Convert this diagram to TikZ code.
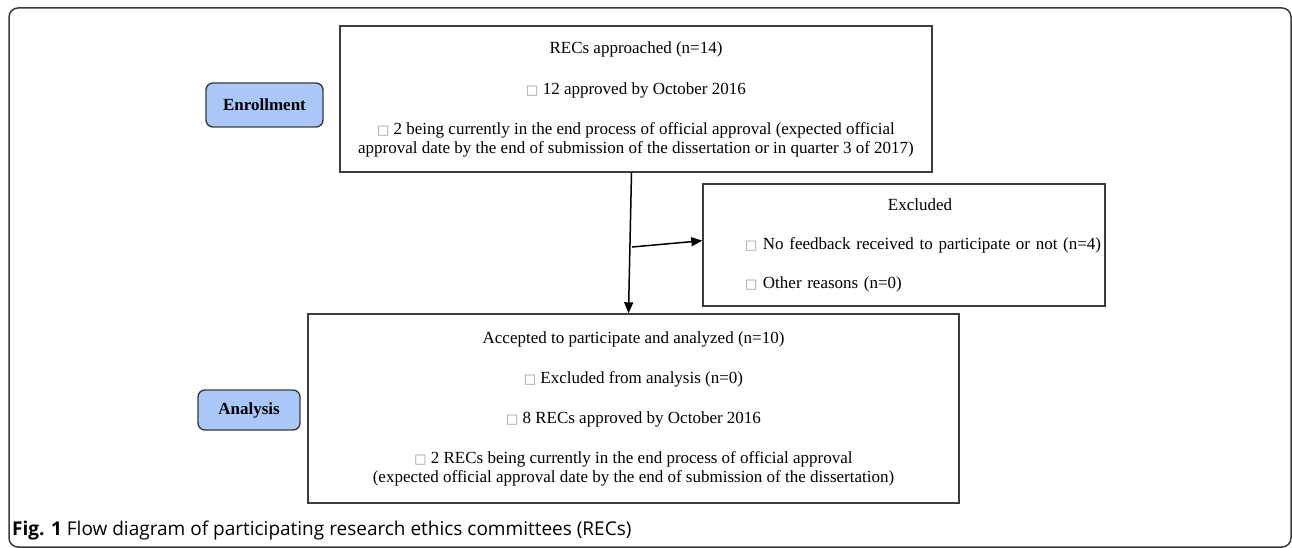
\documentclass[tikz,border=0pt]{standalone}
\usepackage{fontspec}
\setmainfont{Liberation Serif}
\newfontfamily\capfont{Open Sans}
\newfontfamily\symfont{DejaVu Sans}
\usetikzlibrary{shapes,arrows,arrows.meta,calc}
\definecolor{stageblue}{RGB}{170,199,250}
\definecolor{linegray}{RGB}{60,60,60}
\newcommand{\tofu}{{\symfont\fontsize{13}{13}\selectfont\color{gray!80}□}}
\tikzstyle{box}=[draw=linegray, line width=1.4pt, align=center, font=\fontsize{17}{19}\selectfont]
\tikzstyle{stage}=[draw=linegray, line width=1.4pt, fill=stageblue, rounded corners=7pt, font=\bfseries\fontsize{17}{19}\selectfont]
\tikzstyle{arrow}=[draw, line width=1.5pt, -{Triangle[length=11pt,width=9pt]}]

\begin{document}
\begin{tikzpicture}[x=1pt,y=-1pt]
\useasboundingbox (0,0) rectangle (1292,548);
\draw [linegray, line width=1.5pt, rounded corners=9pt] (9,8) rectangle (1291,547);

\node (enroll) [stage, minimum width=117pt, minimum height=44pt] at (264.5,105) {Enrollment};
\node (analysis) [stage, minimum width=102pt, minimum height=40pt] at (249,410) {Analysis};

\node (approached) [box, minimum width=592pt, minimum height=146pt] at (636,99) {RECs approached (n=14)\\[22pt]
\tofu{} 12 approved by October 2016\\[21pt]
\tofu{} 2 being currently in the end process of official approval (expected official\\
approval date by the end of submission of the dissertation or in quarter 3 of 2017)};
\node (excluded) [box, align=left, text width=398pt, inner xsep=2pt, minimum width=402pt, minimum height=122pt] at (904,245) {\makebox[\linewidth]{\hspace*{32pt}Excluded}\\[20pt]
\hspace*{40pt}\mbox{\tofu{} No feedback received to participate or not (n=4)}\\[20pt]
\hspace*{40pt}\mbox{\tofu{} Other reasons (n=0)}};
\node (accepted) [box, minimum width=651pt, minimum height=189pt] at (633.5,408.5) {Accepted to participate and analyzed (n=10)\\[21pt]
\tofu{} Excluded from analysis (n=0)\\[21pt]
\tofu{} 8 RECs approved by October 2016\\[21pt]
\tofu{} 2 RECs being currently in the end process of official approval\\
(expected official approval date by the end of submission of the dissertation)};

\coordinate (branch) at (632,247);
\draw [arrow] ([xshift=-4.5pt]approached.south) -- ([xshift=-5pt]accepted.north);
\draw [arrow] (branch) -- ([yshift=4.3pt]excluded.west);

\node (caption) [anchor=base west, inner sep=0pt, font=\capfont\fontsize{19}{21}\selectfont] at (12,535) {\textbf{Fig. 1} Flow diagram of participating research ethics committees (RECs)};

\end{tikzpicture}
\end{document}
